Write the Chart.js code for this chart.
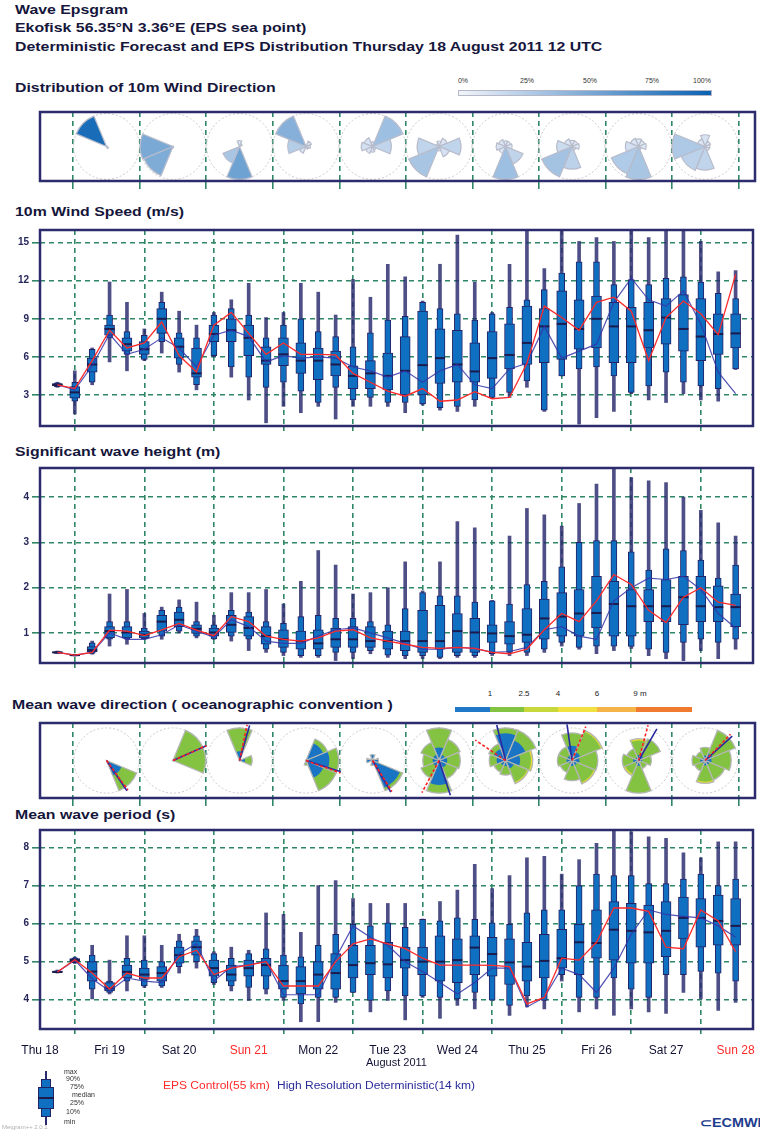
<!DOCTYPE html>
<html>
<head>
<meta charset="utf-8">
<script src="https://cdn.jsdelivr.net/npm/chart.js@4.4.1/dist/chart.umd.min.js"></script>
<style>
  html, body { margin: 0; padding: 0; background: #fff; }
  #page { position: relative; width: 760px; height: 1131px; overflow: hidden; font-family: "Liberation Sans", Arial, sans-serif; }
  canvas { position: absolute; left: 0; }
  .t { position: absolute; white-space: nowrap; font-weight: bold; font-size: 13px; line-height: 14px; color: #16163c; transform: scaleX(1.22); transform-origin: 0 50%; }
  .s { position: absolute; white-space: nowrap; font-size: 7px; line-height: 8px; color: #333; transform: translateX(-50%); }
  .lg { position: absolute; white-space: nowrap; font-size: 10px; line-height: 12px; transform: scaleX(1.2); transform-origin: 0 50%; }
  .bx { position: absolute; box-sizing: border-box; }
</style>
</head>
<body>
<div id="page">
  <div class="t" style="left:15px;top:3px">Wave Epsgram</div>
  <div class="t" style="left:15px;top:21px">Ekofisk 56.35°N 3.36°E (EPS sea point)</div>
  <div class="t" style="left:15px;top:40px">Deterministic Forecast and EPS Distribution Thursday 18 August 2011 12 UTC</div>
  <div class="t" style="left:15px;top:81px">Distribution of 10m Wind Direction</div>
  <div class="t" style="left:15px;top:205px">10m Wind Speed (m/s)</div>
  <div class="t" style="left:15px;top:445px">Significant wave height (m)</div>
  <div class="t" style="left:12px;top:698px">Mean wave direction ( oceanographic convention )</div>
  <div class="t" style="left:15px;top:808px">Mean wave period (s)</div>

  <div class="bx" style="left:458px;top:90px;width:254px;height:6px;border:1px solid #b5b7c6;background:linear-gradient(to right,#f2f4fa,#0a62b2)"></div>
  <div id="windBarLabels"></div>
  <div id="waveBar"></div>

  <canvas id="cWindDir" width="760" height="83" style="top:108px"></canvas>
  <canvas id="cSpeed" width="760" height="214" style="top:221px"></canvas>
  <canvas id="cHs" width="760" height="213" style="top:459px"></canvas>
  <canvas id="cWaveDir" width="760" height="89" style="top:719px"></canvas>
  <canvas id="cPeriod" width="760" height="249" style="top:821px"></canvas>

  <!-- box plot key -->
  <div class="bx" style="left:45px;top:1071px;width:2px;height:54px;background:#2a2a70"></div>
  <div class="bx" style="left:41px;top:1079px;width:10px;height:38px;background:#0f6fc0;border:1px solid #232368"></div>
  <div class="bx" style="left:38px;top:1087px;width:16px;height:22px;background:#0f6fc0;border:1px solid #232368"></div>
  <div class="bx" style="left:38px;top:1097px;width:16px;height:2px;background:#1b1b4e"></div>
  <div id="keyLabels"></div>

  <div class="lg" style="left:163px;top:1080px;color:#ff2a2a">EPS Control(55 km)</div>
  <div class="lg" style="left:277px;top:1080px;color:#2a2a9a">High Resolution Deterministic(14 km)</div>
  <div style="position:absolute;left:2px;top:1124px;font-size:6px;color:#b0b0b0">Metgram++ 2.0.1</div>
  <div style="position:absolute;left:700px;top:1116px;font-size:12px;font-weight:bold;color:#1d3d8e;white-space:nowrap;transform:scaleX(1.2);transform-origin:0 50%">⊂ECMWF</div>
</div>

<script>
// ---- time steps (hours after Thu 18 Aug 2011 12 UTC) ----
const stepHours = [6, 12, 18, 24, 30, 36, 42, 48, 54, 60, 66, 72, 78, 84, 90, 96, 102, 108, 114, 120,
  126, 132, 138, 144, 150, 156, 162, 168, 174, 180, 186, 192, 198, 204, 210, 216, 222, 228, 234, 240];
const dayLabels = ['Thu 18', 'Fri 19', 'Sat 20', 'Sun 21', 'Mon 22', 'Tue 23', 'Wed 24', 'Thu 25', 'Fri 26', 'Sat 27', 'Sun 28'];
const dayHours = [0, 24, 48, 72, 96, 120, 144, 168, 192, 216, 240];
const midnightHours = [12, 36, 60, 84, 108, 132, 156, 180, 204, 228];

// ---- 10m wind speed (m/s) ----
const speedMin = [3.6, 1.5, 3.8, 5.6, 4.9, 5.7, 6.3, 4.8, 3.4, 6.0, 4.4, 2.6, 0.8, 2.1, 1.6, 2.1, 1.1, 2.1, 2.1, 2.1,
  1.6, 2.2, 1.8, 1.7, 2.1, 2.7, 2.8, 3.6, 1.7, 4.5, 0.7, 1.2, 1.7, 3.1, 2.6, 2.4, 3.1, 2.6, 2.5, 5.0];
const speedP10 = [3.65, 2.5, 4.0, 7.5, 6.2, 5.8, 7.2, 5.4, 3.8, 6.1, 5.2, 4.4, 3.6, 4.0, 3.3, 2.4, 3.6, 2.6, 2.8, 2.4,
  2.4, 2.3, 2.0, 2.1, 2.6, 2.8, 3.2, 4.1, 1.8, 4.5, 5.05, 5.2, 4.5, 3.2, 3.7, 4.8, 4.0, 3.7, 3.5, 5.05];
const speedP25 = [3.7, 2.75, 4.8, 7.7, 6.45, 6.2, 7.85, 5.9, 4.4, 7.2, 7.2, 6.1, 5.4, 5.3, 4.7, 4.2, 4.5, 3.5, 3.5, 3.4,
  3.0, 3.0, 3.9, 4.0, 4.0, 4.3, 5.05, 5.4, 5.55, 5.8, 6.6, 6.7, 5.55, 5.55, 6.7, 7.0, 6.45, 5.7, 6.2, 6.7];
const speedMed = [3.8, 3.2, 5.4, 8.2, 7.0, 6.6, 9.0, 6.8, 4.7, 7.8, 8.1, 7.5, 5.7, 6.2, 5.7, 5.7, 5.4, 4.5, 4.7, 4.5,
  4.9, 5.35, 5.9, 5.4, 4.85, 5.9, 6.15, 7.1, 8.4, 8.6, 8.2, 9.0, 8.4, 8.4, 8.1, 9.1, 8.2, 7.6, 7.8, 7.85];
const speedP75 = [3.9, 3.65, 5.9, 8.5, 7.5, 7.2, 9.8, 7.5, 6.7, 8.5, 9.0, 8.5, 6.8, 7.5, 7.1, 6.7, 6.45, 5.3, 5.7, 6.3,
  7.6, 9.6, 8.2, 8.1, 7.1, 8.0, 8.6, 10.0, 9.8, 11.2, 10.5, 10.8, 10.3, 9.9, 10.3, 10.6, 10.9, 10.6, 9.4, 9.4];
const speedP90 = [3.95, 4.0, 6.6, 9.3, 8.0, 7.7, 10.3, 7.9, 7.5, 9.3, 9.8, 9.3, 7.5, 8.5, 9.0, 8.0, 7.6, 6.8, 7.9, 8.9,
  9.2, 10.3, 9.8, 9.4, 8.9, 9.4, 9.9, 10.5, 11.3, 12.6, 13.5, 13.5, 11.7, 12.1, 11.7, 12.2, 12.3, 11.9, 11.0, 10.6];
const speedMax = [4.0, 4.9, 6.7, 11.9, 10.3, 8.2, 11.1, 9.6, 8.5, 9.5, 10.5, 11.8, 9.1, 9.5, 11.8, 11.1, 9.3, 12.1, 10.7, 13.3,
  12.3, 10.4, 13.3, 15.6, 11.9, 9.5, 13.3, 16.0, 12.95, 15.9, 15.1, 15.4, 15.1, 16.0, 15.4, 15.9, 15.9, 15.1, 12.7, 12.8];
const speedCtrl = [3.8, 3.5, 5.7, 8.1, 6.7, 7.1, 8.75, 6.1, 4.8, 8.5, 9.5, 7.85, 6.2, 7.1, 6.2, 6.2, 6.15, 4.7, 4.0, 3.3,
  2.9, 3.5, 2.5, 2.6, 3.25, 2.7, 2.8, 5.5, 10.0, 9.1, 8.1, 10.3, 10.7, 9.6, 5.7, 9.1, 10.4, 9.4, 7.75, 12.5];
const speedHres = [3.8, 3.4, 5.3, 7.8, 6.2, 6.6, 7.5, 6.7, 5.2, 7.7, 8.1, 7.6, 5.6, 6.1, 5.9, 6.0, 5.9, 5.2, 4.9, 4.4,
  4.9, 4.0, 4.9, 5.4, 3.8, 3.5, 5.05, 5.5, 8.4, 5.9, 6.45, 7.0, 10.3, 12.2, 10.5, 10.0, 11.2, 8.6, 4.8, 3.1];
const speedTicks = [3, 6, 9, 12, 15];

// ---- significant wave height (m) ----
const hsMin = [0.55, 0.49, 0.53, 0.71, 0.75, 0.86, 0.86, 1.0, 0.89, 0.86, 0.82, 0.61, 0.57, 0.5, 0.46, 0.46, 0.39, 0.43, 0.54, 0.46,
  0.43, 0.43, 0.43, 0.46, 0.46, 0.5, 0.5, 0.5, 0.57, 0.71, 0.64, 0.54, 0.61, 0.66, 0.5, 0.43, 0.39, 0.61, 0.43, 0.64];
const hsP10 = [0.55, 0.49, 0.55, 0.86, 0.86, 0.87, 0.93, 1.04, 0.93, 0.87, 0.93, 0.86, 0.64, 0.57, 0.5, 0.5, 0.57, 0.57, 0.61, 0.51,
  0.5, 0.5, 0.46, 0.5, 0.5, 0.54, 0.57, 0.57, 0.64, 0.79, 0.68, 0.71, 0.71, 0.7, 0.64, 0.57, 0.79, 0.86, 0.79, 0.86];
const hsP25 = [0.56, 0.5, 0.58, 0.89, 0.89, 0.89, 1.04, 1.14, 0.99, 0.93, 1.01, 0.93, 0.75, 0.68, 0.64, 0.64, 0.68, 0.68, 0.68, 0.64,
  0.61, 0.57, 0.64, 0.57, 0.57, 0.79, 0.75, 0.79, 0.86, 0.93, 0.93, 1.11, 0.93, 0.93, 1.25, 1.25, 1.18, 1.25, 1.25, 1.14];
const hsMed = [0.57, 0.51, 0.62, 1.04, 1.01, 0.96, 1.25, 1.29, 1.09, 1.01, 1.18, 1.11, 0.93, 0.86, 0.82, 0.77, 0.86, 0.86, 0.82, 0.82,
  0.82, 0.82, 0.82, 1.04, 1.01, 0.99, 0.93, 0.96, 1.32, 1.36, 1.43, 1.44, 1.64, 1.59, 1.59, 1.59, 1.79, 1.59, 1.57, 1.57];
const hsP75 = [0.58, 0.52, 0.7, 1.14, 1.14, 1.04, 1.39, 1.46, 1.18, 1.11, 1.39, 1.36, 1.14, 1.07, 1.04, 1.07, 1.11, 1.14, 1.14, 1.04,
  1.04, 1.5, 1.61, 1.43, 1.32, 1.18, 1.25, 1.54, 1.75, 1.89, 1.96, 2.25, 2.14, 1.96, 1.96, 2.18, 2.25, 2.25, 2.04, 1.86];
const hsP90 = [0.59, 0.53, 0.78, 1.25, 1.25, 1.11, 1.5, 1.57, 1.25, 1.18, 1.5, 1.46, 1.25, 1.21, 1.36, 1.39, 1.32, 1.32, 1.25, 1.18,
  1.54, 1.89, 1.82, 1.82, 1.68, 1.71, 1.64, 2.07, 2.14, 2.46, 3.0, 3.04, 3.04, 2.79, 2.39, 2.86, 2.82, 2.61, 2.21, 2.5];
const hsMax = [0.6, 0.53, 0.82, 1.86, 1.96, 1.43, 1.57, 1.73, 1.68, 1.39, 1.89, 1.89, 1.96, 1.64, 2.14, 2.82, 2.5, 1.86, 1.89, 2.0,
  2.57, 1.93, 2.57, 3.46, 3.32, 1.72, 3.14, 3.75, 3.61, 3.36, 3.86, 4.29, 4.64, 4.43, 4.36, 4.32, 4.0, 3.71, 3.43, 3.14];
const hsCtrl = [0.57, 0.51, 0.57, 1.06, 1.04, 0.94, 1.07, 1.21, 1.06, 0.94, 1.36, 1.25, 0.93, 0.86, 0.82, 0.89, 1.04, 1.07, 0.89, 0.82,
  0.75, 0.68, 0.66, 0.68, 0.66, 0.57, 0.54, 0.64, 1.07, 1.43, 1.25, 1.71, 2.29, 2.07, 1.5, 1.23, 1.79, 2.0, 1.68, 1.61];
const hsHres = [0.57, 0.51, 0.57, 1.0, 0.86, 0.86, 0.96, 1.18, 1.04, 0.91, 1.29, 1.14, 0.82, 0.77, 0.77, 0.93, 1.07, 1.11, 1.0, 0.89,
  0.77, 0.64, 0.64, 0.68, 0.66, 0.57, 0.59, 0.68, 1.07, 1.14, 0.93, 0.86, 1.71, 2.0, 2.21, 2.18, 2.25, 1.96, 1.43, 1.11];
const hsTicks = [1, 2, 3, 4];

// ---- mean wave period (s) ----
const tmMin = [4.7, 4.95, 4.02, 4.15, 4.23, 4.32, 4.32, 4.7, 4.83, 4.4, 4.23, 3.98, 4.15, 3.98, 3.42, 3.42, 3.93, 4.19, 3.68, 3.98,
  3.47, 4.06, 3.51, 3.85, 3.76, 3.98, 3.59, 3.81, 3.76, 4.49, 3.68, 3.76, 3.59, 3.76, 3.68, 3.64, 4.19, 4.02, 3.72, 3.93];
const tmP10 = [4.71, 4.97, 4.28, 4.19, 4.49, 4.36, 4.36, 4.87, 5.0, 4.45, 4.36, 4.32, 4.28, 4.06, 3.89, 4.06, 4.06, 4.19, 3.98, 4.23,
  4.1, 4.1, 4.06, 4.02, 4.19, 3.99, 3.85, 4.1, 3.98, 4.66, 4.06, 4.06, 4.57, 4.28, 4.06, 4.66, 4.66, 4.74, 4.7, 4.49];
const tmP25 = [4.72, 5.0, 4.49, 4.23, 4.57, 4.53, 4.49, 4.96, 5.17, 4.62, 4.49, 4.62, 4.62, 4.28, 4.15, 4.28, 4.28, 4.57, 4.66, 4.57,
  4.83, 4.66, 4.49, 4.45, 4.66, 4.62, 4.4, 4.49, 4.57, 4.83, 4.66, 5.09, 5.04, 4.96, 4.96, 5.13, 5.6, 5.38, 5.43, 5.43];
const tmMed = [4.73, 5.04, 4.74, 4.3, 4.73, 4.66, 4.7, 5.17, 5.38, 4.83, 4.66, 4.83, 4.91, 4.49, 4.49, 4.66, 4.7, 4.91, 4.96, 4.93,
  5.04, 5.0, 5.0, 5.04, 5.37, 5.2, 4.98, 4.87, 5.02, 5.09, 5.51, 5.49, 5.84, 5.81, 5.77, 5.81, 6.15, 6.15, 6.07, 5.94];
const tmP75 = [4.75, 5.08, 5.0, 4.45, 4.91, 4.83, 4.87, 5.38, 5.55, 5.04, 4.91, 5.04, 5.09, 4.91, 4.87, 5.0, 5.21, 5.43, 5.43, 5.51,
  5.38, 5.38, 5.68, 5.6, 5.68, 5.64, 5.6, 5.51, 5.72, 5.85, 5.98, 6.36, 6.58, 6.53, 6.49, 6.58, 6.7, 6.66, 6.75, 6.66];
const tmP90 = [4.76, 5.1, 5.17, 4.49, 5.09, 5.04, 5.0, 5.55, 5.68, 5.21, 5.09, 5.21, 5.34, 5.17, 5.13, 5.43, 5.72, 5.98, 5.94, 6.02,
  5.9, 6.11, 6.07, 6.15, 6.11, 6.02, 5.98, 6.28, 6.36, 6.36, 7.0, 7.3, 7.26, 7.26, 7.05, 7.05, 7.17, 7.3, 7.0, 7.17];
const tmMax = [4.78, 5.12, 5.43, 5.04, 5.68, 5.68, 5.43, 5.72, 5.85, 5.26, 5.38, 5.3, 6.28, 6.24, 5.77, 7.0, 7.13, 6.66, 6.53, 6.53,
  6.53, 6.12, 6.58, 6.88, 7.56, 6.92, 7.26, 7.73, 7.77, 7.3, 7.68, 8.11, 8.45, 8.41, 8.28, 8.24, 7.86, 7.73, 8.15, 8.15];
const tmCtrl = [4.73, 5.05, 4.7, 4.28, 4.7, 4.57, 4.57, 5.13, 5.3, 4.66, 4.83, 4.91, 5.0, 4.36, 4.36, 4.36, 5.0, 5.47, 5.6, 5.47,
  5.34, 5.09, 4.91, 4.91, 4.91, 4.9, 4.87, 3.89, 4.06, 5.09, 5.04, 5.51, 6.41, 6.41, 6.32, 5.38, 5.34, 6.36, 6.07, 5.26];
const tmHres = [4.73, 5.04, 4.55, 4.23, 4.57, 4.49, 4.45, 5.21, 5.47, 4.49, 4.87, 4.91, 5.02, 4.13, 4.13, 4.13, 5.09, 5.94, 5.64, 5.43,
  5.0, 4.74, 4.45, 4.15, 4.45, 4.83, 4.83, 3.81, 4.06, 4.83, 4.66, 4.19, 4.83, 5.72, 6.36, 6.24, 6.19, 6.15, 5.94, 5.64];
const tmTicks = [4, 5, 6, 7, 8];

// ---- direction roses: one per day (Fri 19 .. Sun 28), sectors N NE E SE S SW W NW ----
const sectorDeg = [0, 45, 90, 135, 180, 225, 270, 315];
const roseSlots = [0, 1, 2, 3, 4, 5, 6, 7, 8, 9, 10];
const windRose = [
  [0.02, 0, 0, 0.06, 0, 0, 0, 0.92],
  [0, 0, 0, 0, 0.02, 0.48, 0.5, 0],
  [0.1, 0.05, 0, 0, 0.55, 0.3, 0, 0],
  [0.02, 0.08, 0.06, 0.04, 0, 0.1, 0.25, 0.45],
  [0.05, 0.35, 0.2, 0.04, 0.06, 0.08, 0.12, 0.1],
  [0.05, 0.08, 0.2, 0.1, 0.04, 0.3, 0.2, 0.03],
  [0.06, 0.06, 0.07, 0.2, 0.35, 0.08, 0.1, 0.08],
  [0.06, 0.06, 0.07, 0.04, 0.22, 0.32, 0.15, 0.08],
  [0.07, 0.06, 0.07, 0.03, 0.3, 0.27, 0.12, 0.08],
  [0.1, 0.05, 0.04, 0.04, 0.2, 0.22, 0.28, 0.07]
];
// wave direction probability split by wave height class: <1 m, 1-2.5 m, 2.5-4 m
const waveBlue = [
  [0, 0, 0, 0.5, 0, 0, 0, 0],
  [0, 0, 0, 0, 0, 0, 0, 0],
  [0.2, 0, 0.12, 0, 0, 0, 0, 0],
  [0, 0.2, 0.25, 0.2, 0.02, 0, 0, 0],
  [0.1, 0.03, 0.1, 0.5, 0.08, 0, 0.1, 0.04],
  [0.08, 0.04, 0.05, 0.05, 0.15, 0.04, 0.04, 0.04],
  [0.15, 0.12, 0.08, 0.05, 0.03, 0.03, 0.05, 0.07],
  [0.08, 0.05, 0.04, 0.03, 0.03, 0.02, 0.03, 0.03],
  [0.03, 0.03, 0.02, 0, 0.03, 0.02, 0.03, 0.02],
  [0.03, 0.05, 0.04, 0.03, 0.03, 0.02, 0.03, 0.02]
];
const waveGreen = [
  [0, 0, 0, 0.5, 0, 0, 0, 0],
  [0, 0.5, 0.5, 0, 0, 0, 0, 0],
  [0.5, 0, 0.15, 0, 0, 0, 0, 0],
  [0, 0.05, 0.1, 0.15, 0.03, 0, 0, 0],
  [0, 0, 0, 0.05, 0, 0, 0, 0],
  [0.12, 0.1, 0.08, 0.07, 0.05, 0.08, 0.06, 0.08],
  [0.03, 0.06, 0.06, 0.08, 0.05, 0.04, 0.04, 0.03],
  [0.07, 0.12, 0.1, 0.1, 0.08, 0.05, 0.05, 0.05],
  [0.08, 0.1, 0.05, 0.05, 0.15, 0.06, 0.06, 0.05],
  [0.05, 0.15, 0.12, 0.1, 0.1, 0.05, 0.05, 0.04]
];
const waveYellow = [
  [0, 0, 0, 0, 0, 0, 0, 0],
  [0, 0, 0, 0, 0, 0, 0, 0],
  [0, 0, 0, 0, 0, 0, 0, 0],
  [0, 0, 0, 0, 0, 0, 0, 0],
  [0, 0, 0, 0, 0, 0, 0, 0],
  [0, 0, 0, 0, 0, 0, 0, 0],
  [0, 0, 0.01, 0.008, 0, 0, 0, 0],
  [0, 0.008, 0, 0.008, 0, 0, 0, 0],
  [0.01, 0, 0, 0, 0, 0.01, 0, 0],
  [0, 0, 0, 0, 0.01, 0, 0, 0]
];
const waveCtrlDir = [144, 66, 12, 110, 148, 208, 304, 22, 15, 44];
const waveHresDir = [146, 66, 16, 108, 150, 162, 346, 352, 30, 48];

// colour key labels
const windKeyLabels = ['0%', '25%', '50%', '75%', '100%'];
const waveKeyLabels = ['1', '2.5', '4', '6', '9 m'];
const boxKeyLabels = ['max', '90%', '75%', 'median', '25%', '10%', 'min'];

// ---------------------------------------------------------------
const GRID = '#2f8765';
const BOX = '#0f6fc0';
const EDGE = '#232368';
const RED = '#ff2a2a';

Chart.defaults.font.family = '"Liberation Sans", Arial, sans-serif';
Chart.defaults.animation = false;
Chart.defaults.events = [];
Chart.defaults.plugins.legend.display = false;
Chart.defaults.plugins.tooltip.enabled = false;

const framePlugin = {
  id: 'frame',
  afterDraw(chart) {
    const a = chart.chartArea, c = chart.ctx;
    c.save();
    c.strokeStyle = '#2b2b6e';
    c.lineWidth = 2.5;
    c.strokeRect(a.left, a.top, a.right - a.left, a.bottom - a.top);
    c.restore();
  }
};

function pts(v) { return stepHours.map((h, i) => ({ x: h, y: v[i] })); }
function rng(lo, hi) { return stepHours.map((h, i) => ({ x: h, y: [lo[i], hi[i]] })); }

function makeSeries(id, s, yMin, yMax, yTicks, xHeight, withDays) {
  const scales = {
    x: {
      type: 'linear', min: 0, max: 246, offset: false, weight: 0,
      afterBuildTicks: a => { a.ticks = midnightHours.map(v => ({ value: v })); },
      afterFit: a => { a.height = xHeight; a.paddingLeft = 0; a.paddingRight = 0; },
      ticks: { display: false },
      grid: { color: GRID, lineWidth: 1.6, tickLength: 5, offset: false },
      border: { display: false, dash: [5, 4] }
    },
    y: {
      type: 'linear', min: yMin, max: yMax,
      afterBuildTicks: a => { a.ticks = yTicks.map(v => ({ value: v })); },
      afterFit: a => { a.width = 40; },
      ticks: { font: { size: 10, weight: 'bold' }, color: '#26265c', padding: 3 },
      grid: { color: GRID, lineWidth: 1.6, tickLength: 8 },
      border: { display: false, dash: [5, 4] }
    }
  };
  if (withDays) {
    scales.xd = {
      type: 'linear', position: 'bottom', min: 0, max: 246, offset: false, weight: 1,
      afterBuildTicks: a => { a.ticks = dayHours.map(v => ({ value: v })); },
      afterFit: a => { a.height = 35; a.paddingLeft = 0; a.paddingRight = 0; },
      ticks: {
        autoSkip: false, maxRotation: 0, padding: 8, font: { size: 12 },
        color: c => (dayLabels[c.index] || '').startsWith('Sun') ? RED : '#111133',
        callback: (v, i) => dayLabels[i]
      },
      grid: { display: false, drawTicks: false },
      border: { display: false },
      title: { display: true, text: 'August 2011', font: { size: 11 }, color: '#111133', padding: { top: 0, bottom: 0 } }
    };
  }
  const ids = { xAxisID: 'x', yAxisID: 'y' };
  return new Chart(document.getElementById(id), {
    type: 'bar',
    data: {
      datasets: [
        { ...ids, type: 'line', label: 'EPS Control', data: pts(s.ctrl), borderColor: RED, borderWidth: 1.3, pointRadius: 0, order: 0 },
        { ...ids, type: 'line', label: 'High Resolution Deterministic', data: pts(s.hres), borderColor: 'rgba(52,52,168,0.85)', borderWidth: 1.2, pointRadius: 0, order: 1 },
        { ...ids, type: 'line', label: 'median', data: pts(s.med), showLine: false, pointStyle: 'line', pointRadius: 5, pointBorderWidth: 2, borderColor: '#1b1b4e', pointBorderColor: '#1b1b4e', order: 2 },
        { ...ids, label: '25-75%', data: rng(s.p25, s.p75), barThickness: 10, backgroundColor: BOX, borderColor: EDGE, borderWidth: 1, borderSkipped: false, grouped: false, order: 3 },
        { ...ids, label: '10-90%', data: rng(s.p10, s.p90), barThickness: 6, backgroundColor: BOX, borderColor: EDGE, borderWidth: 1, borderSkipped: false, grouped: false, order: 4 },
        { ...ids, label: 'min-max', data: rng(s.min, s.max), barThickness: 3, backgroundColor: 'rgba(40,40,108,0.82)', borderWidth: 0, grouped: false, order: 5 }
      ]
    },
    options: {
      responsive: false,
      layout: { padding: { top: 4, right: 5, left: 0, bottom: 0 } },
      scales
    },
    plugins: [framePlugin]
  });
}

function sector(ctx, cx, cy, r, deg) {
  const a0 = (deg - 22.5 - 90) * Math.PI / 180;
  const a1 = (deg + 22.5 - 90) * Math.PI / 180;
  ctx.beginPath();
  ctx.moveTo(cx, cy);
  ctx.arc(cx, cy, r, a0, a1);
  ctx.closePath();
}

function windColor(p) {
  const a = [238, 242, 250], b = [6, 96, 178];
  const m = a.map((v, k) => Math.round(v + (b[k] - v) * p));
  return `rgb(${m[0]},${m[1]},${m[2]})`;
}

function roseFrame(chart) {
  const { ctx, chartArea: a, scales: { x, y } } = chart;
  const cy = y.getPixelForValue(0);
  const R = cy - y.getPixelForValue(1);
  ctx.save();
  ctx.beginPath();
  ctx.rect(a.left, a.top, a.right - a.left, a.bottom - a.top);
  ctx.clip();
  return { ctx, x, cy, R };
}

function dottedCircle(ctx, cx, cy, R) {
  ctx.setLineDash([2, 2]);
  ctx.strokeStyle = '#c8c8c8';
  ctx.lineWidth = 1;
  ctx.beginPath();
  ctx.arc(cx, cy, R, 0, Math.PI * 2);
  ctx.stroke();
  ctx.setLineDash([]);
}

function drawWindRoses(chart) {
  const { ctx, x, cy, R } = roseFrame(chart);
  windRose.forEach((probs, i) => {
    const cx = x.getPixelForValue(i + 0.5);
    dottedCircle(ctx, cx, cy, R);
    const pmax = Math.max(...probs);
    probs.forEach((p, k) => {
      if (p <= 0) return;
      sector(ctx, cx, cy, R * p / pmax, sectorDeg[k]);
      ctx.fillStyle = windColor(p);
      ctx.fill();
      ctx.strokeStyle = '#b8bccb';
      ctx.lineWidth = 1.2;
      ctx.stroke();
    });
  });
  ctx.restore();
}

function drawWaveRoses(chart) {
  const { ctx, x, cy, R } = roseFrame(chart);
  const colours = ['#1a74c4', '#84c342', '#e6dc2a'];
  waveBlue.forEach((blue, i) => {
    const cx = x.getPixelForValue(i + 0.5);
    dottedCircle(ctx, cx, cy, R);
    const tot = blue.map((b, k) => b + waveGreen[i][k] + waveYellow[i][k]);
    const tmax = Math.max(...tot);
    tot.forEach((t, k) => {
      if (t <= 0) return;
      const cum = [blue[k], blue[k] + waveGreen[i][k], t];
      for (let j = 2; j >= 0; j--) {
        if (cum[j] <= 0 || (j > 0 && cum[j] === cum[j - 1])) continue;
        sector(ctx, cx, cy, R * cum[j] / tmax, sectorDeg[k]);
        ctx.fillStyle = colours[j];
        ctx.fill();
      }
      sector(ctx, cx, cy, R * t / tmax, sectorDeg[k]);
      ctx.strokeStyle = '#b4b6b4';
      ctx.lineWidth = 1.3;
      ctx.stroke();
    });
    const ray = (deg, colour, dash) => {
      const r = (deg - 90) * Math.PI / 180;
      ctx.setLineDash(dash);
      ctx.strokeStyle = colour;
      ctx.lineWidth = 1.6;
      ctx.beginPath();
      ctx.moveTo(cx, cy);
      ctx.lineTo(cx + Math.cos(r) * R * 1.12, cy + Math.sin(r) * R * 1.12);
      ctx.stroke();
    };
    ray(waveHresDir[i], '#2a2aa0', []);
    ray(waveCtrlDir[i], '#ff2020', [3, 2]);
    ctx.setLineDash([]);
  });
  ctx.restore();
}

function makeRoseChart(id, yHalf, drawRoses) {
  return new Chart(document.getElementById(id), {
    type: 'scatter',
    data: { datasets: [] },
    options: {
      responsive: false,
      layout: { padding: { top: 4, right: 5, left: 40, bottom: 0 } },
      scales: {
        x: {
          type: 'linear', min: -0.5, max: 10.25,
          afterBuildTicks: a => { a.ticks = roseSlots.map(v => ({ value: v })); },
          afterFit: a => { a.height = 10; a.paddingLeft = 0; a.paddingRight = 0; },
          ticks: { display: false },
          grid: { color: GRID, lineWidth: 1.6, tickLength: 8 },
          border: { display: false, dash: [5, 4] }
        },
        y: { display: false, min: -yHalf, max: yHalf }
      }
    },
    plugins: [{ id: 'roses', afterDatasetsDraw: drawRoses }, framePlugin]
  });
}

makeRoseChart('cWindDir', 1.05, drawWindRoses);
makeRoseChart('cWaveDir', 1.15, drawWaveRoses);

makeSeries('cSpeed', { min: speedMin, p10: speedP10, p25: speedP25, med: speedMed, p75: speedP75, p90: speedP90, max: speedMax, ctrl: speedCtrl, hres: speedHres },
  0.55, 16.0, speedTicks, 8, false);
makeSeries('cHs', { min: hsMin, p10: hsP10, p25: hsP25, med: hsMed, p75: hsP75, p90: hsP90, max: hsMax, ctrl: hsCtrl, hres: hsHres },
  0.336, 4.643, hsTicks, 8, false);
makeSeries('cPeriod', { min: tmMin, p10: tmP10, p25: tmP25, med: tmMed, p75: tmP75, p90: tmP90, max: tmMax, ctrl: tmCtrl, hres: tmHres },
  3.23, 8.46, tmTicks, 6, true);

// ---- small key texts ----
function addLabels(holderId, labels, xs, top, extra) {
  const holder = document.getElementById(holderId);
  labels.forEach((t, i) => {
    const d = document.createElement('div');
    d.className = 's';
    d.textContent = t;
    d.style.left = xs[i] + 'px';
    d.style.top = (Array.isArray(top) ? top[i] : top) + 'px';
    if (extra) Object.assign(d.style, extra);
    holder.appendChild(d);
  });
}
addLabels('windBarLabels', windKeyLabels, [463, 527, 590, 652, 702], 77);
addLabels('waveBar', waveKeyLabels, [490, 524, 558, 597, 640], 690, { fontSize: '8px', color: '#222' });
addLabels('keyLabels', boxKeyLabels, [64, 66, 70, 72, 70, 66, 64], [1068, 1075, 1083, 1091, 1099, 1108, 1118], { transform: 'none' });

const waveSegs = [[455, 490, '#1f78c8'], [490, 524, '#82c341'], [524, 558, '#c8d83a'], [558, 597, '#f0e040'], [597, 636, '#f5b448'], [636, 692, '#f07a30']];
waveSegs.forEach(([a, b, c]) => {
  const d = document.createElement('div');
  d.className = 'bx';
  Object.assign(d.style, { left: a + 'px', top: '707px', width: (b - a) + 'px', height: '5px', background: c });
  document.getElementById('waveBar').appendChild(d);
});
</script>
</body>
</html>
